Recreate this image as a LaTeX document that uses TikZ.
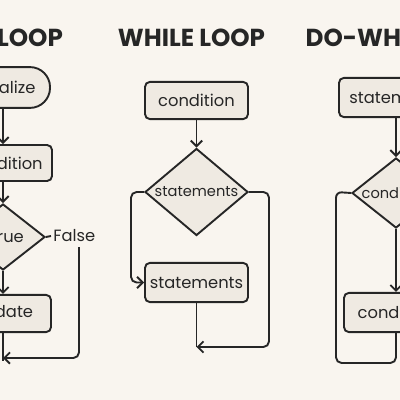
\documentclass[tikz,border=0pt]{standalone}
\usepackage{fontspec}
\setmainfont{Poppins}
\usetikzlibrary{arrows.meta,shapes.geometric}
\definecolor{bgcol}{HTML}{F9F5EF}
\definecolor{boxcol}{HTML}{EFEAE2}
\definecolor{inkcol}{HTML}{262626}
\begin{document}
\begin{tikzpicture}[x=0.025cm,y=-0.025cm,>={Straight Barb[length=4pt,width=8pt]},
  line width=1.35pt,draw=inkcol,text=inkcol,font=\fontsize{11.6}{13}\selectfont]
\tikzstyle{box}=[draw,fill=boxcol,rounded corners=3.5pt,inner sep=0pt,minimum height=0.95cm]
\tikzstyle{dia}=[draw,fill=boxcol,diamond,inner sep=0pt,label distance=0pt]
\tikzstyle{dtext}=[font=\fontsize{10.4}{12}\selectfont]
\tikzstyle{ttl}=[font=\fontsize{17.5}{20}\selectfont\bfseries]
\tikzstyle{wire}=[draw,rounded corners=4pt]
\fill[bgcol] (0,0) rectangle (400,400);
\useasboundingbox (0,0) rectangle (400,400);
% titles
\node[ttl] (t1) at (3,38) {FOR LOOP};
\node[ttl] (t2) at (191.5,38) {WHILE LOOP};
\node[ttl] (t3) at (405,38) {DO-WHILE LOOP};
% for loop
\node[box,rounded corners=0.5cm,minimum width=2.35cm,minimum height=1.02cm] (init) at (3,87.5) {Initialize};
\node[box,minimum width=2.45cm,minimum height=0.9cm] (fcond) at (3,163) {Condition};
\node[dia,minimum width=2.1cm,minimum height=1.65cm,label={[xshift=2.2pt]center:True}] (ftrue) at (3,237) {};
\node[box,minimum width=2.4cm,minimum height=0.93cm] (upd) at (3,313.5) {Update};
\node[anchor=west,inner sep=1pt] (false) at (51,236) {False};
\coordinate (fa) at (79,247);
\coordinate (fb) at (3,358);
\draw[->] (init) -- (fcond);
\draw[->] (fcond) -- (ftrue);
\draw[->] (ftrue) -- (upd);
\draw (ftrue.east) -- (false.west);
\draw[wire,->] (fa) |- (fb);
\draw (upd.south) -- ([yshift=-2pt]fb);
% while loop
\node[box,minimum width=2.575cm,minimum height=0.93cm] (wcond) at (196.5,100.5) {condition};
\node[dia,minimum width=2.575cm,minimum height=2.175cm,label={[dtext]center:statements}] (wdia) at (196.5,192) {};
\node[box,minimum width=2.575cm,minimum height=0.98cm] (wstmt) at (196.5,282.5) {statements};
\coordinate (wl) at (131,192);
\coordinate (wr) at (269,192);
\coordinate (wb) at (196.5,347);
\draw[->] (wcond) -- (wdia);
\draw[wire,->] (wdia.west) -- (wl) |- (wstmt.west);
\draw[wire,->] (wdia.east) -- (wr) |- (wb);
\draw (wstmt.south) -- (wb);
% do-while loop
\node[box,minimum width=2.85cm,minimum height=0.98cm] (dstmt) at (396,97.5) {statements};
\node[dia,minimum width=2.2cm,minimum height=1.75cm,label={[dtext]center:condition}] (ddia) at (396,193) {};
\node[box,minimum width=2.6cm,minimum height=0.98cm] (dcond) at (396,312.5) {condition};
\coordinate (dl) at (336,192);
\coordinate (db) at (336,363);
\draw[->] (dstmt) -- (ddia);
\draw[->] (ddia) -- (dcond);
\draw[wire] (ddia.west) -- (dl) -- (db) -| (dcond.south);
\end{tikzpicture}
\end{document}
